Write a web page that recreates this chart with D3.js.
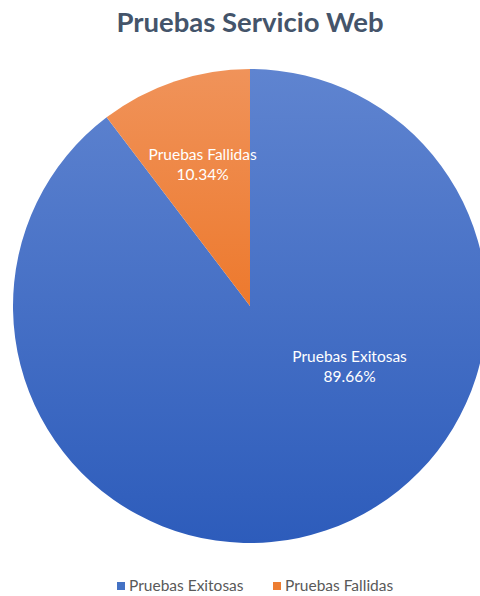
<!DOCTYPE html>
<html>
<head>
<meta charset="utf-8">
<script src="https://cdn.jsdelivr.net/npm/d3@7"></script>
<style>
  body { margin: 0; background: #fff; }
  svg { display: block; font-family: Lato, "Open Sans", sans-serif; }
</style>
</head>
<body>
<svg id="chart"></svg>
<script>
// data
const categories = ["Pruebas Exitosas", "Pruebas Fallidas"];
const values = [89.66, 10.34];
const labels = ["89.66%", "10.34%"];

const width = 480, height = 596;
const cx = 250, cy = 306, radius = 237;

// gradient colours per slice (top -> bottom of the pie)
const gradTop = ["#5f84d0", "#f0935a"];
const gradBottom = ["#2d5cbb", "#ea5f00"];
const legendColor = ["#4472c4", "#ed7d31"];
// label placement: angle (deg, clockwise from 12 o'clock), radius fraction
const labelPlace = [{ a: 121, r: 0.49 }, { a: 341.5, r: 0.63 }];

const svg = d3.select("#chart")
  .attr("width", width)
  .attr("height", height);

const defs = svg.append("defs");
categories.forEach((c, i) => {
  const g = defs.append("linearGradient")
    .attr("id", "grad" + i)
    .attr("gradientUnits", "userSpaceOnUse")
    .attr("x1", 0).attr("x2", 0)
    .attr("y1", -radius).attr("y2", radius);
  g.append("stop").attr("offset", "0%").attr("stop-color", gradTop[i]);
  g.append("stop").attr("offset", "100%").attr("stop-color", gradBottom[i]);
});

// title
svg.append("text")
  .text("Pruebas Servicio Web")
  .attr("x", 250)
  .attr("y", 32)
  .attr("text-anchor", "middle")
  .attr("font-size", 27.5)
  .attr("font-weight", 700)
  .attr("fill", "#44546a");

const pie = d3.pie().sort(null).value(d => d);
const arcs = pie(values);
const arc = d3.arc().innerRadius(0).outerRadius(radius);

const g = svg.append("g").attr("transform", `translate(${cx},${cy})`);

g.selectAll("path")
  .data(arcs)
  .join("path")
    .attr("d", arc)
    .attr("fill", (d, i) => `url(#grad${i})`);

// data labels
const lab = g.selectAll("g.lbl")
  .data(arcs)
  .join("g")
    .attr("class", "lbl")
    .attr("transform", (d, i) => {
      const a = labelPlace[i].a * Math.PI / 180;
      const r = labelPlace[i].r * radius;
      return `translate(${r * Math.sin(a)},${-r * Math.cos(a)})`;
    });

lab.append("text")
  .text((d, i) => categories[i])
  .attr("text-anchor", "middle")
  .attr("y", -4)
  .attr("font-size", 15.5)
  .attr("fill", "#fff");

lab.append("text")
  .text((d, i) => labels[i])
  .attr("text-anchor", "middle")
  .attr("y", 16)
  .attr("font-size", 15.5)
  .attr("fill", "#fff");

// legend
const legendX = [117, 273];
const legend = svg.append("g")
  .selectAll("g")
  .data(categories)
  .join("g")
    .attr("transform", (d, i) => `translate(${legendX[i]},589)`);

legend.append("rect")
  .attr("x", 0)
  .attr("y", -7)
  .attr("width", 8)
  .attr("height", 8)
  .attr("fill", (d, i) => legendColor[i]);

legend.append("text")
  .text(d => d)
  .attr("x", 12)
  .attr("y", 2)
  .attr("font-size", 15.5)
  .attr("fill", "#595959");
</script>
</body>
</html>
